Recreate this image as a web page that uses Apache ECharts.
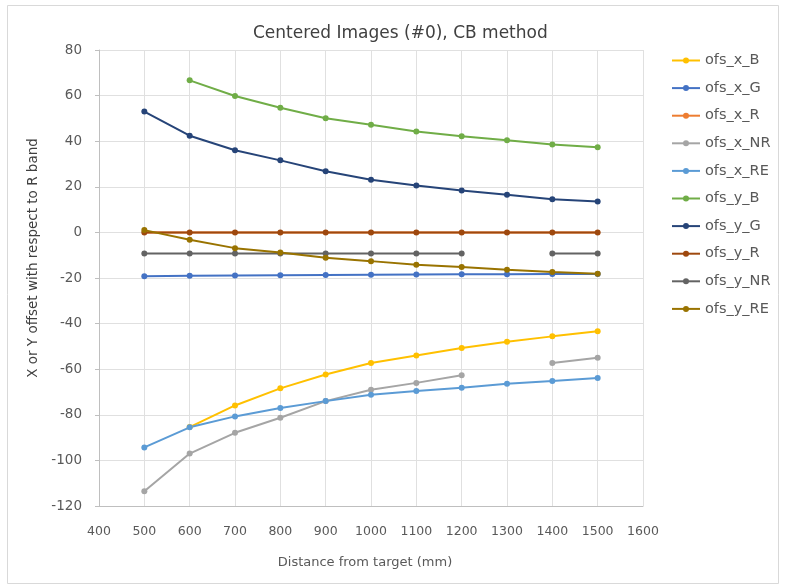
<!DOCTYPE html>
<html>
<head>
<meta charset="utf-8">
<script src="https://cdn.jsdelivr.net/npm/echarts@6/dist/echarts.min.js"></script>
<style>
  html, body { margin: 0; padding: 0; background: #ffffff; }
  #chart { width: 785px; height: 586px; }
</style>
</head>
<body>
<div id="chart"></div>
<script>
// Distance from target (mm)
const distances = [500, 600, 700, 800, 900, 1000, 1100, 1200, 1300, 1400, 1500];

// Offsets relative to the R band (null = no measurement)
const ofs_x_B  = [null, -85.4, -75.9, -68.4, -62.3, -57.3, -54.0, -50.7, -48.0, -45.6, -43.4];
const ofs_x_G  = [-19.2, -19.0, -18.9, -18.8, -18.7, -18.6, -18.5, -18.4, -18.4, -18.3, -18.2];
const ofs_x_R  = [0, 0, 0, 0, 0, 0, 0, 0, 0, 0, 0];
const ofs_x_NR = [-113.5, -97.0, -87.9, -81.3, -74.0, -69.0, -66.0, -62.7, null, -57.3, -55.0];
const ofs_x_RE = [-94.3, -85.5, -80.7, -77.0, -74.0, -71.2, -69.6, -68.1, -66.4, -65.2, -63.9];
const ofs_y_B  = [null, 66.7, 59.8, 54.7, 50.1, 47.2, 44.3, 42.2, 40.4, 38.6, 37.4];
const ofs_y_G  = [53.0, 42.4, 36.0, 31.6, 26.8, 23.1, 20.6, 18.4, 16.5, 14.5, 13.5];
const ofs_y_R  = [0, 0, 0, 0, 0, 0, 0, 0, 0, 0, 0];
const ofs_y_NR = [-9.3, -9.3, -9.3, -9.3, -9.3, -9.3, -9.3, -9.3, null, -9.3, -9.3];
const ofs_y_RE = [1.0, -3.2, -6.9, -8.8, -11.1, -12.6, -14.2, -15.2, -16.4, -17.4, -18.1];

const seriesDefs = [
  ['ofs_x_B',  ofs_x_B,  '#FFC000'],
  ['ofs_x_G',  ofs_x_G,  '#4472C4'],
  ['ofs_x_R',  ofs_x_R,  '#ED7D31'],
  ['ofs_x_NR', ofs_x_NR, '#A5A5A5'],
  ['ofs_x_RE', ofs_x_RE, '#5B9BD5'],
  ['ofs_y_B',  ofs_y_B,  '#70AD47'],
  ['ofs_y_G',  ofs_y_G,  '#264478'],
  ['ofs_y_R',  ofs_y_R,  '#9E480E'],
  ['ofs_y_NR', ofs_y_NR, '#636363'],
  ['ofs_y_RE', ofs_y_RE, '#997300']
];

const FONT = '"DejaVu Sans", "Liberation Sans", sans-serif';
const TXT = '#595959';

const chart = echarts.init(document.getElementById('chart'), null, { renderer: 'canvas' });

chart.setOption({
  animation: false,
  backgroundColor: '#ffffff',
  title: {
    text: 'Centered Images (#0), CB method',
    left: 248,
    top: 20,
    textStyle: { fontFamily: FONT, fontSize: 17, fontWeight: 'normal', color: '#404040' }
  },
  graphic: [{
    type: 'rect',
    shape: { x: 7.5, y: 5.5, width: 771, height: 578 },
    style: { fill: 'none', stroke: '#d9d9d9', lineWidth: 1 },
    silent: true,
    z: -1
  }],
  legend: {
    orient: 'vertical',
    left: 671,
    top: 53,
    padding: 0,
    itemWidth: 28,
    itemHeight: 7.5,
    itemGap: 12.6,
    textStyle: { fontFamily: FONT, fontSize: 14.5, lineHeight: 15, color: TXT },
    data: seriesDefs.map(d => d[0])
  },
  grid: { left: 99, right: 142, top: 50, bottom: 80 },
  xAxis: {
    type: 'value',
    min: 400, max: 1600, interval: 100,
    name: 'Distance from target (mm)',
    nameLocation: 'middle',
    nameGap: 50,
    nameTextStyle: { fontFamily: FONT, fontSize: 13, color: TXT, padding: [0, 12, 0, 0] },
    axisLine: { show: true, onZero: false, lineStyle: { color: '#bfbfbf' } },
    axisTick: { show: false },
    axisLabel: { fontFamily: FONT, fontSize: 12.5, color: TXT, margin: 19, formatter: v => String(v) },
    splitLine: { show: true, lineStyle: { color: '#e0e0e0' } }
  },
  yAxis: {
    type: 'value',
    min: -120, max: 80, interval: 20,
    name: 'X or Y offset with respect to R band',
    nameLocation: 'middle',
    nameGap: 57,
    nameTextStyle: { fontFamily: FONT, fontSize: 13.5, color: '#404040', padding: [0, 0, 0, 40] },
    axisLine: { show: true, lineStyle: { color: '#bfbfbf' } },
    axisTick: { show: true, inside: false, length: 4, lineStyle: { color: '#bfbfbf' } },
    axisLabel: { fontFamily: FONT, fontSize: 13.5, color: TXT, margin: 17, formatter: v => String(v) },
    splitLine: { show: true, lineStyle: { color: '#e0e0e0' } }
  },
  series: seriesDefs.map(([name, values, color]) => {
    const s = {
      name: name,
      type: 'line',
      data: distances.map((d, i) => [d, values[i]]),
      connectNulls: false,
      symbol: 'circle',
      symbolSize: 6,
      color: color,
      lineStyle: { width: 2, color: color },
      itemStyle: { color: color }
    };
    // The x_R reference line stays visible over the coincident y_R trace,
    // while the y_R markers show through along the zero line.
    if (name === 'ofs_x_R') { s.z = 3; s.showSymbol = false; }
    return s;
  })
});
</script>
</body>
</html>
